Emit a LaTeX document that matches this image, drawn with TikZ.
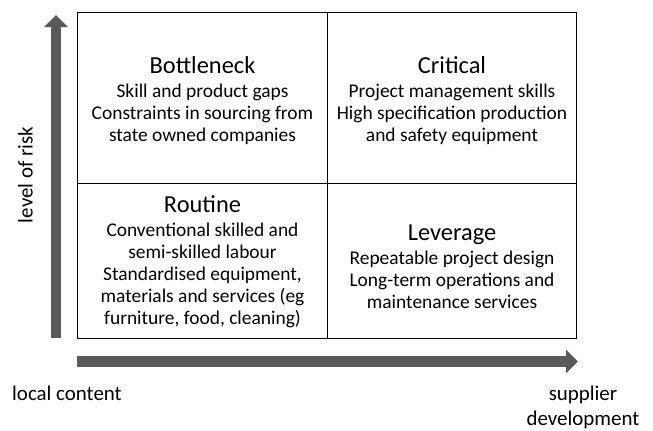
\documentclass[tikz,border=0pt]{standalone}
\usepackage{fontspec}
\setmainfont{Carlito}
\usepackage{tikz}
\usetikzlibrary{arrows.meta}
\definecolor{axisgray}{RGB}{89,89,89}
\newcommand{\celltitle}[1]{{\fontsize{24.5}{25}\selectfont #1}}

\begin{document}
\begin{tikzpicture}[x=1bp,y=-1bp,
	cell/.style={draw=black, line width=1bp, minimum width=249bp, inner sep=0pt},
	celltext/.style={align=center, inner sep=0pt, font=\fontsize{19.5}{22}\selectfont},
	axis/.style={draw=axisgray, line width=10.5bp, -{Triangle[length=12bp,width=23bp]}},
	axislabel/.style={font=\fontsize{21}{25}\selectfont, align=center}]
	\useasboundingbox (0,0) rectangle (653,430);

	% quadrants
	\node[cell, minimum height=171bp] (bottleneck) at (202.5,97.5) {};
	\node[cell, minimum height=171bp] (critical) at (452,97.5) {};
	\node[cell, minimum height=155bp] (routine) at (202.5,260.5) {};
	\node[cell, minimum height=155bp] (leverage) at (452,260.5) {};

	\node[celltext, yshift=-3bp] (bottlenecktext) at (bottleneck) {\celltitle{Bottleneck}\\[2bp] Skill and product gaps\\ Constraints in sourcing from\\ state owned companies};
	\node[celltext, yshift=-3bp] (criticaltext) at (critical) {\celltitle{Critical}\\[2bp] Project management skills\\ High specification production\\ and safety equipment};
	\node[celltext, yshift=-1bp] (routinetext) at (routine) {\celltitle{Routine}\\[2bp] Conventional skilled and\\ semi-skilled labour\\ Standardised equipment,\\ materials and services (eg\\ furniture, food, cleaning)};
	\node[celltext, yshift=-6bp] (leveragetext) at (leverage) {\celltitle{Leverage}\\[2bp] Repeatable project design\\ Long-term operations and\\ maintenance services};

	% axes
	\coordinate (riskbase) at (56,338);
	\coordinate (risktop) at (56,15);
	\draw[axis] (riskbase) -- (risktop);
	\coordinate (devbase) at (77,361.5);
	\coordinate (devend) at (578,361.5);
	\draw[axis] (devbase) -- (devend);

	\node[axislabel, rotate=90] (risk) at (25.5,175) {level of risk};
	\node[axislabel, anchor=west, inner sep=0pt] (local) at (12,393) {local content};
	\node[axislabel] (supplier) at (583,407) {supplier\\development};
\end{tikzpicture}
\end{document}
